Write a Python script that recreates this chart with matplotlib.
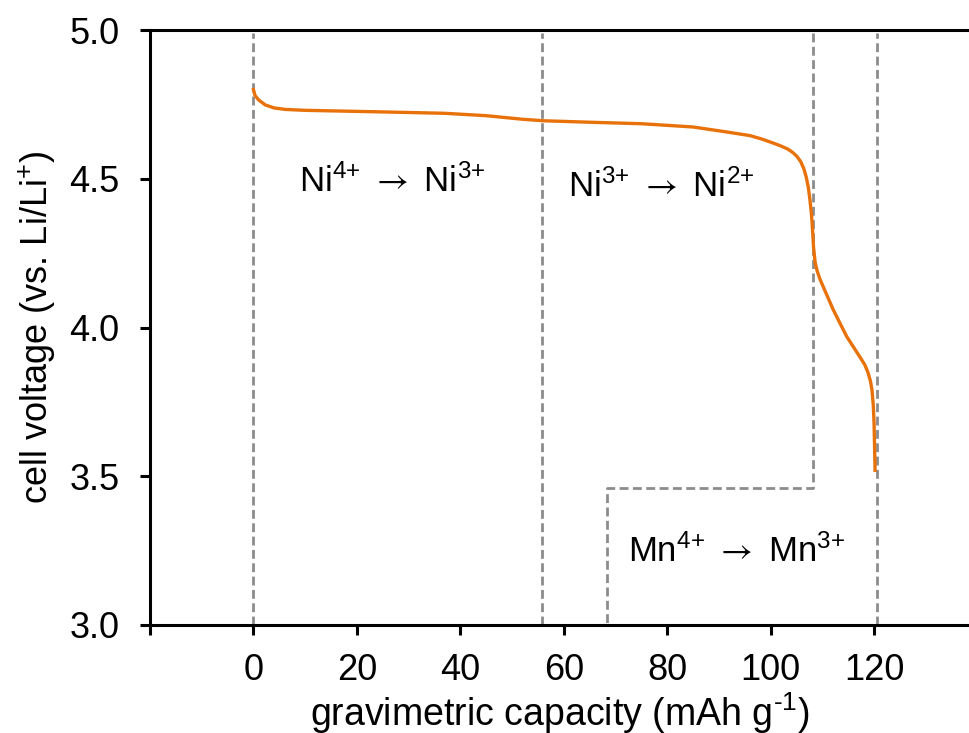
import numpy as np
import matplotlib
matplotlib.use("Agg")
import matplotlib.pyplot as plt

plt.rcParams["font.family"] = ["Liberation Sans", "DejaVu Sans"]
plt.rcParams["mathtext.fontset"] = "custom"
plt.rcParams["mathtext.rm"] = "Liberation Sans"
plt.rcParams["mathtext.it"] = "Liberation Sans:italic"
plt.rcParams["mathtext.bf"] = "Liberation Sans:bold"
plt.rcParams["mathtext.sf"] = "STIXGeneral"
plt.rcParams["mathtext.fallback"] = "stixsans"
plt.rcParams["mathtext.default"] = "rm"

# discharge curve
capacity = [0, 0.3, 1, 2.3, 4, 6.2, 10, 24, 37, 45, 52, 56, 65, 75, 85, 91.6,
            96, 98.2, 100.5, 102, 103.3, 104.3, 105.1, 105.8, 106.4, 106.9,
            107.3, 107.6, 107.9, 108.1, 108.3, 108.6, 109.0, 109.6, 112.1,
            114.7, 116, 117.3, 118.2, 118.8, 119.3, 119.6, 119.85, 120.0,
            120.1, 120.2]
voltage = [4.80, 4.78, 4.765, 4.748, 4.738, 4.733, 4.73, 4.725, 4.72, 4.712,
           4.70, 4.695, 4.69, 4.685, 4.674, 4.657, 4.645, 4.634, 4.62, 4.61,
           4.60, 4.588, 4.575, 4.558, 4.535, 4.505, 4.47, 4.43, 4.38, 4.33,
           4.27, 4.22, 4.19, 4.16, 4.06, 3.97, 3.935, 3.90, 3.875, 3.85,
           3.82, 3.79, 3.74, 3.68, 3.60, 3.52]

# region boundaries
full_lines = [0, 55.8, 120.6]
mn_step_x = [108.2, 108.2, 68.4, 68.4]
mn_step_y = [4.99, 3.46, 3.46, 3.0]

labels = [r"Ni$^{4{+}}$ $\mathsf{\rightarrow}$ Ni$^{3{+}}$",
          r"Ni$^{3{+}}$ $\mathsf{\rightarrow}$ Ni$^{2{+}}$",
          r"Mn$^{4{+}}$ $\mathsf{\rightarrow}$ Mn$^{3{+}}$"]
label_x = [26.8, 78.9, 93.4]
label_y = [4.455, 4.44, 3.213]

xticks = [-20, 0, 20, 40, 60, 80, 100, 120]
yticks = [3.0, 3.5, 4.0, 4.5, 5.0]

fig = plt.figure(figsize=(9.69, 7.33), dpi=100)
ax = fig.add_axes([150 / 969, 1 - 625 / 733, 819 / 969, 595 / 733])

dash_kw = dict(color="#8c8c8c", lw=2.0, dashes=(3.2, 1.6), zorder=1)
for xv in full_lines:
    ax.plot([xv, xv], [3.0, 4.99], **dash_kw)
ax.plot(mn_step_x, mn_step_y, **dash_kw)

ax.plot(capacity, voltage, color="#E8710A", lw=2.4, zorder=3)

for text, tx, ty in zip(labels, label_x, label_y):
    ax.text(tx, ty, text, ha="center", va="baseline", fontsize=25)

ax.set_xlim(-20, 138.36)
ax.set_ylim(3.0, 5.0)
ax.set_xticks(xticks)
ax.set_xticklabels([""] + [str(t) for t in xticks[1:]])
ax.set_yticks(yticks)
ax.set_yticklabels([f"{t:.1f}" for t in yticks])

for side in ["left", "bottom", "top"]:
    ax.spines[side].set_linewidth(2.2)
ax.spines["right"].set_visible(False)
ax.tick_params(axis="both", direction="out", length=7, width=2.2, labelsize=26)
ax.tick_params(axis="x", pad=13)
ax.tick_params(axis="y", pad=15)

ax.set_xlabel(r"gravimetric capacity (mAh g$^{\text{-}1}$)", fontsize=27, labelpad=2)
ax.set_ylabel("cell voltage (vs. Li/Li$^{+}$)", fontsize=26, labelpad=8)

fig.savefig("out.png", dpi=100)
